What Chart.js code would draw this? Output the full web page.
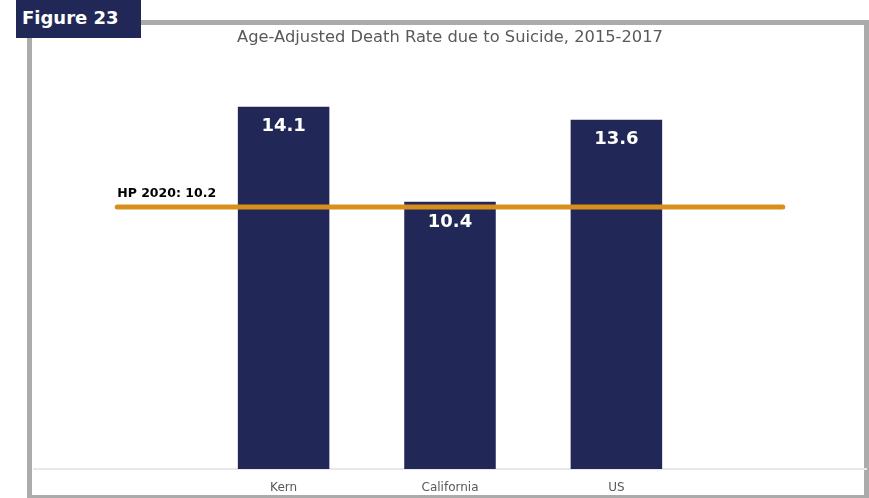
<!DOCTYPE html>
<html>
<head>
<meta charset="utf-8">
<script src="https://cdn.jsdelivr.net/npm/chart.js@4/dist/chart.umd.min.js"></script>
<style>
  html, body { margin: 0; padding: 0; background: #fff; overflow: hidden; }
  #wrap { position: relative; width: 869px; height: 498px; }
  #frame {
    position: absolute; left: 27px; top: 20px; width: 842px; height: 480px;
    box-sizing: border-box; border: 5px solid #ababab; background: #fff;
  }
  #badge {
    position: absolute; left: 16px; top: 0; width: 125px; height: 38px;
    background: #212857; color: #fff; box-sizing: border-box;
    font: bold 18px "DejaVu Sans", sans-serif; padding: 7px 0 0 6px; z-index: 3;
  }
  #title {
    position: absolute; left: 0; width: 900px; top: 27px; text-align: center;
    font: 16.3px "DejaVu Sans", sans-serif; color: #595959; z-index: 2;
  }
  #c { position: absolute; left: 0; top: 0; z-index: 1; }
</style>
</head>
<body>
<div id="wrap">
  <div id="frame"></div>
  <div id="badge">Figure 23</div>
  <div id="title">Age-Adjusted Death Rate due to Suicide, 2015-2017</div>
  <canvas id="c" width="869" height="498"></canvas>
</div>
<script>
// Categories (blank slots at each end let the target line extend past the bars)
const categories = ['', 'Kern', 'California', 'US', ''];
const rates = [null, 14.1, 10.4, 13.6, null];
const hpTarget = 10.2;
const hpTargetLine = categories.map(() => hpTarget);
const hpLabel = 'HP 2020: ' + hpTarget.toFixed(1);

const NAVY = '#212857';
const GOLD = '#d98f1b';

// Value labels inside the top of each bar, and the target label above the line start
const labelsPlugin = {
  id: 'labelsPlugin',
  afterDatasetsDraw(chart) {
    const ctx = chart.ctx;
    const xs = chart.scales.x, ys = chart.scales.y;
    ctx.save();
    ctx.fillStyle = '#ffffff';
    ctx.font = 'bold 18px "DejaVu Sans", sans-serif';
    ctx.textAlign = 'center';
    ctx.textBaseline = 'middle';
    rates.forEach((v, i) => {
      if (v == null) return;
      ctx.fillText(v.toFixed(1), xs.getPixelForValue(i), ys.getPixelForValue(v) + 20);
    });
    ctx.fillStyle = '#000000';
    ctx.font = 'bold 12.5px "DejaVu Sans", sans-serif';
    ctx.textAlign = 'left';
    ctx.textBaseline = 'alphabetic';
    ctx.fillText(hpLabel, xs.getPixelForValue(0), ys.getPixelForValue(hpTarget) - 10);
    ctx.restore();
  }
};

new Chart(document.getElementById('c'), {
  data: {
    labels: categories,
    datasets: [
      {
        type: 'line',
        data: hpTargetLine,
        borderColor: GOLD,
        borderWidth: 5,
        borderCapStyle: 'round',
        pointRadius: 0,
        order: 0
      },
      {
        type: 'bar',
        data: rates,
        backgroundColor: NAVY,
        categoryPercentage: 1,
        barPercentage: 0.55,
        order: 1
      }
    ]
  },
  options: {
    responsive: false,
    animation: false,
    layout: { padding: { left: 34, right: 3, top: 58, bottom: 0 } },
    plugins: { legend: { display: false }, tooltip: { enabled: false }, title: { display: false } },
    scales: {
      x: {
        grid: { display: false, drawTicks: false },
        border: { display: true, color: '#e8e8e8', width: 2 },
        ticks: { color: '#595959', font: { family: 'DejaVu Sans', size: 12 }, padding: 12, maxRotation: 0 },
        afterFit(scale) { scale.height = 29; }
      },
      y: {
        display: false,
        min: 0,
        max: 16
      }
    }
  },
  plugins: [labelsPlugin]
});
</script>
</body>
</html>
